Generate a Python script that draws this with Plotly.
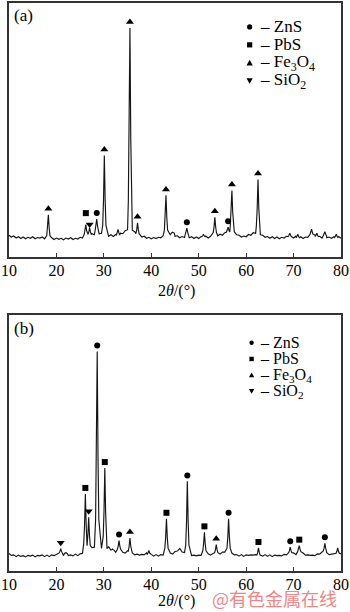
import plotly.graph_objects as go

# ---------------------------------------------------------------- data
# background samples, 2θ = 10.0 ... 80.0 every 0.5°
bg_theta = [10.0 + 0.5 * i for i in range(141)]

bg_a = [
    8.6, 7.9, 8.3, 7.5, 8.0, 7.3, 7.9, 7.2, 7.8, 7.4, 8.0, 7.2, 7.7, 7.5, 7.9, 7.2,
    7.7, 7.2, 7.6, 6.9, 7.5, 7.0, 7.4, 6.8, 7.5, 7.1, 7.6, 6.9, 7.4, 7.1, 7.8, 7.5,
    8.4, 9.0, 8.6, 9.2, 8.8, 9.8, 9.2, 9.4, 8.4, 8.8, 8.2, 8.8, 8.1, 8.9, 8.4, 9.4,
    9.2, 10.4, 10.8, 11.8, 10.6, 10.0, 8.6, 9.1, 7.9, 8.2, 7.4, 7.8, 7.2, 7.7, 7.3, 7.8,
    7.6, 8.4, 8.6, 9.3, 8.8, 9.4, 8.2, 8.4, 7.6, 8.1, 7.7, 8.5, 7.6, 8.0, 7.3, 7.9,
    7.3, 8.1, 7.9, 8.3, 7.5, 8.2, 8.0, 8.8, 8.4, 9.0, 8.6, 9.6, 9.6, 10.4, 10.5, 10.0,
    8.8, 8.6, 7.9, 8.3, 8.0, 8.9, 8.6, 9.6, 9.4, 9.8, 8.8, 8.6, 7.8, 8.1, 7.4, 8.0,
    7.3, 7.9, 7.2, 7.8, 7.5, 8.2, 7.9, 8.4, 7.5, 8.3, 7.4, 8.0, 7.3, 7.9, 7.8, 8.6,
    8.6, 8.8, 7.9, 8.2, 7.5, 8.2, 7.6, 7.9, 7.4, 8.0, 7.5, 8.1, 7.4,
]

bg_b = [
    6.8, 6.1, 6.3, 5.6, 6.2, 5.7, 6.0, 5.5, 6.1, 5.8, 6.2, 5.5, 6.1, 5.9, 6.3, 5.6,
    6.2, 5.6, 6.3, 6.0, 6.4, 6.1, 6.8, 6.0, 6.7, 6.0, 6.3, 5.9, 6.6, 6.0, 6.7, 6.9,
    8.0, 8.9, 8.2, 9.1, 9.3, 10.2, 9.0, 8.8, 9.4, 8.5, 8.6, 8.0, 8.1, 7.3, 8.0, 7.2,
    7.3, 7.0, 7.9, 7.0, 7.1, 6.3, 6.6, 6.2, 6.5, 6.3, 7.1, 6.2, 6.5, 5.8, 6.4, 5.8,
    6.4, 6.2, 7.2, 7.0, 7.0, 6.6, 7.6, 7.8, 8.8, 7.4, 7.2, 6.4, 6.6, 6.0, 6.2, 5.9,
    6.2, 6.1, 6.8, 6.6, 6.7, 6.2, 6.8, 6.7, 6.9, 6.6, 7.4, 7.4, 8.2, 7.2, 7.0, 6.3,
    6.4, 5.8, 6.4, 5.7, 6.3, 6.1, 6.3, 6.2, 6.4, 5.8, 6.0, 5.8, 6.4, 5.7, 6.3, 5.6,
    6.2, 6.0, 6.1, 5.9, 6.5, 6.3, 7.0, 6.8, 7.1, 6.4, 7.2, 7.0, 7.0, 6.2, 6.3, 6.1,
    6.2, 6.0, 6.7, 6.6, 7.4, 7.4, 7.2, 6.4, 6.6, 6.5, 7.2, 6.6, 6.7,
]

# diffraction peaks: position (2θ, °) and apex intensity (a.u.)
peaks_a_theta = [18.3, 26.2, 27.0, 28.5, 30.1, 33.0, 35.5, 37.1, 43.1, 44.5, 47.5,
                 51.0, 53.4, 56.2, 57.0, 62.5, 69.2, 70.9, 73.8, 74.9, 76.6, 79.0]
peaks_a_int = [16.7, 12.8, 11.5, 15.0, 40.0, 10.9, 90.2, 13.5, 24.3, 9.8, 11.4,
               9.0, 15.7, 11.8, 26.2, 30.5, 9.4, 9.0, 11.0, 9.4, 10.0, 9.0]

peaks_b_theta = [20.9, 22.0, 26.1, 26.8, 28.6, 30.2, 31.0, 31.8, 33.2, 35.5, 39.5,
                 43.2, 47.6, 51.2, 53.7, 56.3, 62.6, 69.3, 71.2, 76.6, 79.3]
peaks_b_int = [8.7, 7.2, 30.1, 21.0, 85.7, 40.2, 9.6, 8.6, 11.9, 12.9, 8.0,
               20.4, 35.0, 15.1, 10.3, 20.4, 9.0, 9.3, 9.9, 10.8, 9.0]

# phase assignment of indexed peaks
phases = ["ZnS", "PbS", "Fe3O4", "SiO2"]
phase_a = {
    "ZnS": [28.5, 47.5, 56.2],
    "PbS": [26.2],
    "Fe3O4": [18.3, 30.1, 35.5, 37.1, 43.1, 53.4, 57.0, 62.5],
    "SiO2": [27.0],
}
phase_b = {
    "ZnS": [28.6, 33.2, 47.6, 56.3, 69.3, 76.6],
    "PbS": [26.1, 30.2, 43.2, 51.2, 62.6, 71.2],
    "Fe3O4": [35.5, 53.7],
    "SiO2": [20.9, 26.8],
}

x_ticks = [10, 20, 30, 40, 50, 60, 70, 80]

# ---------------------------------------------------------------- style
W, H = 350, 612
M_L, M_R, M_T, M_B = 5, 7, 1, 41
PLOT_W = W - M_L - M_R
PLOT_H = H - M_T - M_B
SERIF = "Liberation Serif, Times New Roman, serif"
FRAME = "#333333"

symbols = {"ZnS": "circle", "PbS": "square", "Fe3O4": "triangle-up", "SiO2": "triangle-down"}
sizes = {"ZnS": 6, "PbS": 6, "Fe3O4": 7, "SiO2": 7}
names = {"ZnS": "ZnS", "PbS": "PbS", "Fe3O4": "Fe<sub>3</sub>O<sub>4</sub>",
         "SiO2": "SiO<sub>2</sub>"}

dom_a = [(H - M_B - 256) / PLOT_H, 1.0]
dom_b = [0.0, (H - M_B - 314) / PLOT_H]
Y_RANGE = [0, 100]


def paper_x(px):
    return (px - M_L) / PLOT_W


def paper_y(py):
    return (H - M_B - py) / PLOT_H


def units_per_px(dom):
    return (Y_RANGE[1] - Y_RANGE[0]) / ((dom[1] - dom[0]) * PLOT_H)


def build_profile(bg, p_theta, p_int):
    """Background samples plus a narrow spike drawn at every peak."""
    clear = 0.4
    pts = [(t, v) for t, v in zip(bg_theta, bg)
           if all(abs(t - p) >= clear for p in p_theta)]
    for p, h in zip(p_theta, p_int):
        base = bg[min(range(len(bg_theta)), key=lambda i: abs(bg_theta[i] - p))]
        for off, frac in ((-0.34, 0.13), (-0.17, 0.45), (0.0, 1.0),
                          (0.17, 0.45), (0.34, 0.13)):
            pts.append((p + off, base + frac * (h - base)))
    pts.sort()
    return [q[0] for q in pts], [q[1] for q in pts]


fig = go.Figure()

panels = [
    ("x", "y", bg_a, peaks_a_theta, peaks_a_int, phase_a, dom_a),
    ("x2", "y2", bg_b, peaks_b_theta, peaks_b_int, phase_b, dom_b),
]
# extra lift (px) for closely spaced labels
label_lift_px = {("x", 26.2): 11.5, ("x", 27.0): 3.5}

for xa, ya, bg, pt, pi, ph, dom in panels:
    xs, ys = build_profile(bg, pt, pi)
    fig.add_trace(go.Scatter(x=xs, y=ys, mode="lines", xaxis=xa, yaxis=ya,
                             line=dict(color="#151515", width=1.15),
                             showlegend=False, hoverinfo="skip"))
    upp = units_per_px(dom)
    for phase in phases:
        mx = ph[phase]
        my = [pi[pt.index(t)] + label_lift_px.get((xa, t), 6.0) * upp for t in mx]
        fig.add_trace(go.Scatter(x=mx, y=my, mode="markers", xaxis=xa, yaxis=ya,
                                 marker=dict(symbol=symbols[phase], size=sizes[phase],
                                             color="black", line=dict(width=0)),
                                 showlegend=False, hoverinfo="skip"))

axis_common = dict(showline=True, linecolor=FRAME, linewidth=1.5, mirror=True,
                   showgrid=False, zeroline=False)
xaxis_common = dict(axis_common, range=[10, 80], tickvals=x_ticks,
                    ticktext=[str(v) for v in x_ticks], ticks="inside", ticklen=4,
                    tickwidth=1.2, tickcolor=FRAME, ticklabeloverflow="allow",
                    ticklabelstandoff=-2,
                    tickfont=dict(family=SERIF, size=16, color="black"))
yaxis_common = dict(axis_common, range=Y_RANGE, showticklabels=False, ticks="")

fig.update_layout(
    width=W, height=H,
    margin=dict(l=M_L, r=M_R, t=M_T, b=M_B),
    paper_bgcolor="white", plot_bgcolor="white",
    xaxis=dict(xaxis_common, anchor="y", domain=[0, 1]),
    yaxis=dict(yaxis_common, anchor="x", domain=dom_a),
    xaxis2=dict(xaxis_common, anchor="y2", domain=[0, 1]),
    yaxis2=dict(yaxis_common, anchor="x2", domain=dom_b),
)

annotations = []
shapes = []


def text(px, py, s, size=16, anchor="left", family=SERIF, color="black"):
    annotations.append(dict(x=paper_x(px), y=paper_y(py), xref="paper", yref="paper",
                            text=s, showarrow=False, xanchor=anchor, yanchor="middle",
                            font=dict(family=family, size=size, color=color)))


# panel tags and axis titles
text(8, 14, "(a)", size=17)
text(8, 328, "(b)", size=17)
text(176, 290, "2<i>θ</i>/(°)", size=16, anchor="center")
text(176, 601, "2<i>θ</i>/(°)", size=16, anchor="center")


def legend_marker(phase, px, py, r):
    common = dict(xref="paper", yref="paper", xsizemode="pixel", ysizemode="pixel",
                  xanchor=paper_x(px), yanchor=paper_y(py),
                  fillcolor="black", line=dict(width=0))
    if phase == "ZnS":
        shapes.append(dict(common, type="circle", x0=-r, x1=r, y0=-r, y1=r))
    elif phase == "PbS":
        shapes.append(dict(common, type="rect", x0=-r, x1=r, y0=-r, y1=r))
    elif phase == "Fe3O4":
        shapes.append(dict(common, type="path",
                           path=f"M{-r*1.2},{-r} L{r*1.2},{-r} L0,{r*1.2} Z"))
    else:
        shapes.append(dict(common, type="path",
                           path=f"M{-r*1.2},{r} L{r*1.2},{r} L0,{-r*1.2} Z"))


legend_a = dict(mx=250, tx=258, y0=25, dy=18, r=2.6, size=17)
legend_b = dict(mx=252, tx=259, y0=342, dy=16.2, r=2.2, size=16)
for lg in (legend_a, legend_b):
    for k, phase in enumerate(phases):
        y = lg["y0"] + k * lg["dy"]
        legend_marker(phase, lg["mx"], y, lg["r"])
        text(lg["tx"], y, "– " + names[phase], size=lg["size"])

# publisher mark
text(275, 598, "@有色金属在线", size=18, anchor="center",
     family="Noto Sans CJK SC", color="rgb(240,135,135)")

fig.update_layout(annotations=annotations, shapes=shapes)
fig.write_html("out.html")
